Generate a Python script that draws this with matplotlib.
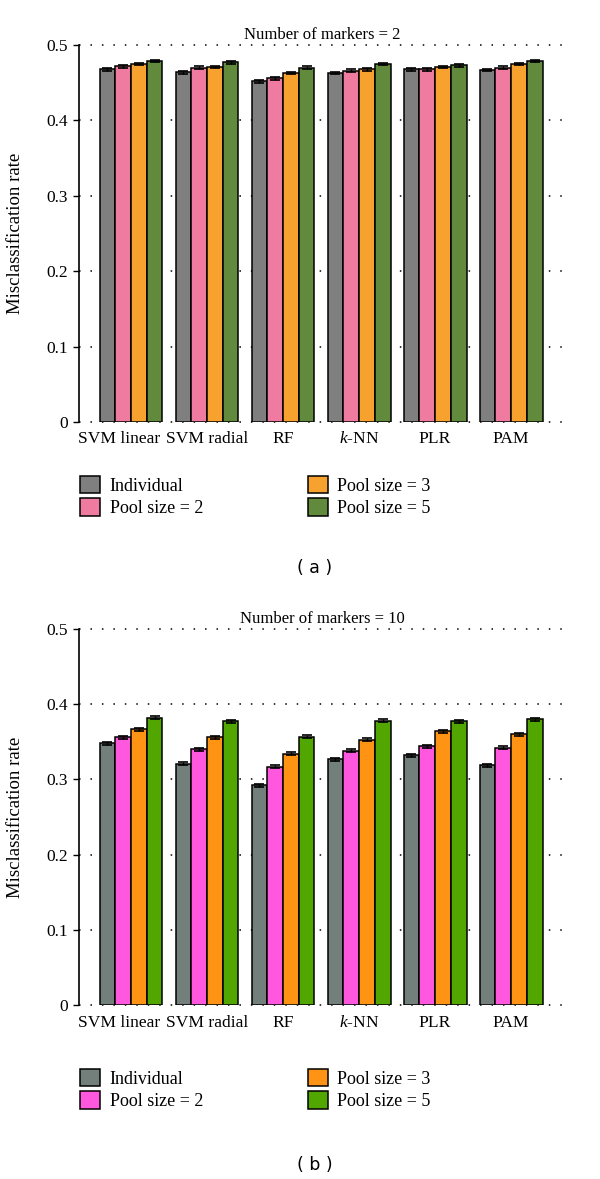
import numpy as np
import matplotlib
matplotlib.use("Agg")
import matplotlib.pyplot as plt
import matplotlib.transforms as mtransforms

# Data
METHODS = ["SVM linear", "SVM radial", "RF", "$k$-NN", "PLR", "PAM"]
SERIES = ["Individual", "Pool size = 2", "Pool size = 3", "Pool size = 5"]
YTICKS = [0, 0.1, 0.2, 0.3, 0.4, 0.5]
YTICK_LABELS = ["0", "0.1", "0.2", "0.3", "0.4", "0.5"]

# panel (a): number of markers = 2
a_individual = [0.468, 0.464, 0.452, 0.463, 0.468, 0.467]
a_pool2 = [0.472, 0.470, 0.456, 0.466, 0.468, 0.470]
a_pool3 = [0.475, 0.471, 0.463, 0.468, 0.471, 0.475]
a_pool5 = [0.479, 0.477, 0.470, 0.475, 0.473, 0.479]
a_err = [0.0018, 0.0018, 0.0018, 0.0018]

# panel (b): number of markers = 10
b_individual = [0.348, 0.321, 0.292, 0.327, 0.332, 0.319]
b_pool2 = [0.356, 0.340, 0.317, 0.338, 0.344, 0.342]
b_pool3 = [0.367, 0.356, 0.334, 0.353, 0.364, 0.360]
b_pool5 = [0.382, 0.377, 0.357, 0.378, 0.377, 0.380]
b_err = [0.002, 0.002, 0.002, 0.002]

COLORS_A = ["#7f7f7f", "#ef7ba0", "#f7a22e", "#628a3c"]
COLORS_B = ["#737f7a", "#ff57de", "#ff9313", "#52a600"]

plt.rcParams["font.family"] = ["Liberation Serif", "DejaVu Serif"]
plt.rcParams["mathtext.fontset"] = "custom"
plt.rcParams["mathtext.it"] = "Liberation Serif:italic"
plt.rcParams["mathtext.rm"] = "Liberation Serif"

fig = plt.figure(figsize=(6, 11.79), dpi=100)

BAR_W = 0.207


def draw_panel(rect, title, series, err, colors, legend_xy, caption, caption_y,
               xpad):
    ax = fig.add_axes(rect)
    x = np.arange(len(METHODS))
    handles = []
    for i, (vals, c) in enumerate(zip(series, colors)):
        pos = x + (i - 1.5) * BAR_W
        h = ax.bar(pos, vals, width=BAR_W, color=c, edgecolor="black",
                   linewidth=1.1, zorder=3, label=SERIES[i])
        ax.errorbar(pos, vals, yerr=err[i], fmt="none", ecolor="black",
                    elinewidth=1.0, capsize=3.5, capthick=1.2, zorder=4)
        handles.append(h)
    ax.set_ylim(0, 0.5)
    ax.set_xlim(-0.684, 5.71)
    ax.set_yticks(YTICKS)
    ax.set_yticklabels(YTICK_LABELS, fontsize=12.5)
    ax.set_xticks(x)
    ax.set_xticklabels(METHODS, fontsize=12.6)
    ax.tick_params(axis="x", length=0, pad=xpad)
    ax.tick_params(axis="y", direction="out", length=4, width=1, pad=4)
    # first label sits a little left of its group, as in the original
    shift = mtransforms.ScaledTranslation(-12 / 100, 0, fig.dpi_scale_trans)
    lab0 = ax.xaxis.get_major_ticks()[0].label1
    lab0.set_transform(lab0.get_transform() + shift)
    for s in ["top", "right", "bottom"]:
        ax.spines[s].set_visible(False)
    ax.spines["left"].set_linewidth(1.2)
    for yv in YTICKS:
        ax.axhline(yv, color="black", linestyle=(0, (1, 6.5)), linewidth=1.1,
                   zorder=1, clip_on=False)
    ax.set_ylabel("Misclassification rate", fontsize=13.5, labelpad=16)
    ax.set_title(title, fontsize=12, pad=4)

    fig.legend(handles=handles, loc="upper left", bbox_to_anchor=legend_xy,
               ncol=2, frameon=False, fontsize=13, handlelength=1.1,
               handleheight=1.1, handletextpad=0.55, labelspacing=0.2,
               columnspacing=5.8, borderpad=0, borderaxespad=0)
    fig.text(0.525, caption_y, caption, ha="center", va="center",
             family="DejaVu Sans", fontsize=12.5)
    return ax


draw_panel([0.1317, 0.642, 0.81, 0.3198], "Number of markers = 2",
           [a_individual, a_pool2, a_pool3, a_pool5], a_err, COLORS_A,
           (0.133, 1 - 476 / 1179), "( a )", 1 - 568 / 1179, 6.5)
draw_panel([0.1317, 0.1476, 0.81, 0.3189], "Number of markers = 10",
           [b_individual, b_pool2, b_pool3, b_pool5], b_err, COLORS_B,
           (0.133, 1 - 1069 / 1179), "( b )", 1 - 1165 / 1179, 7.5)

fig.savefig("out.png", dpi=100)
